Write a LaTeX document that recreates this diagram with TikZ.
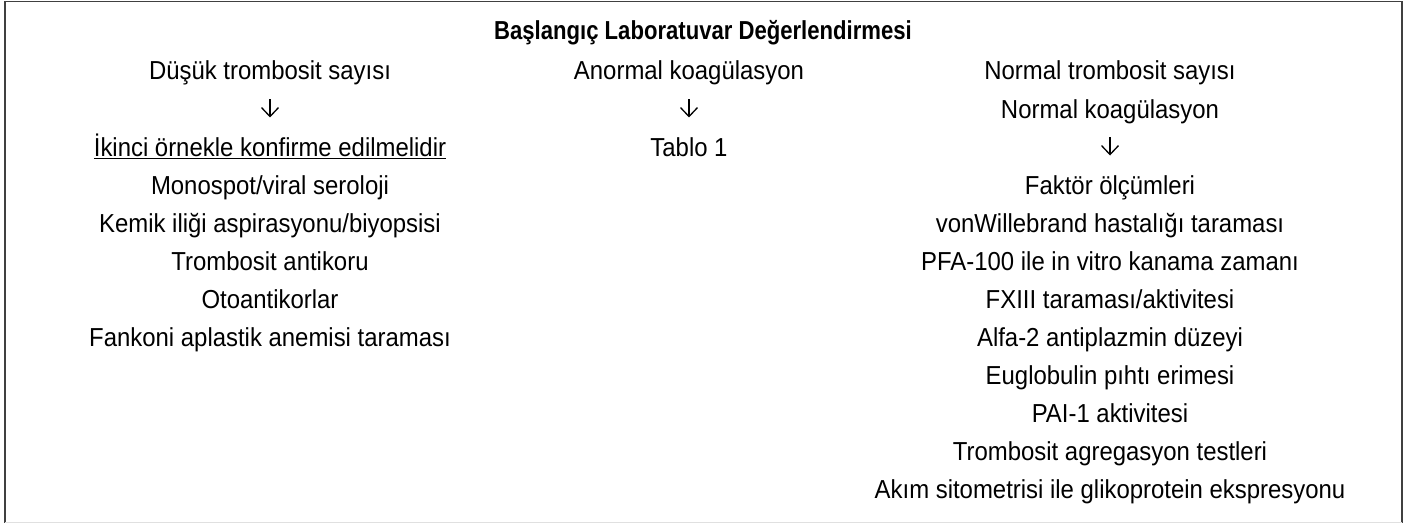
\documentclass[tikz,border=0pt]{standalone}
\usepackage{fontspec}
\setmainfont{Liberation Sans}[FakeStretch=0.92]
\newfontfamily\titlefont{Liberation Sans}[FakeStretch=0.85]
\usetikzlibrary{arrows.meta}
\tikzset{
  txt/.style={anchor=base, inner sep=0pt, outer sep=0pt, font=\fontsize{26}{30}\selectfont, text height=19pt, text depth=5pt},
  ttl/.style={txt, font=\titlefont\bfseries\fontsize{26}{30}\selectfont},
  flow/.style={line width=1.3pt, -{Straight Barb[length=9pt,width=17pt]}, shorten <=14.5pt, shorten >=19.5pt},
  frameline/.style={draw=black!75, line width=1.5pt},
  uline/.style={line width=1.4pt},
}
\begin{document}
\begin{tikzpicture}[x=1pt,y=-1pt]
\useasboundingbox (0,0) rectangle (1418,524);
\draw[frameline] (5,522.5) -- (5,1.5) -- (1402,1.5) -- (1402,522.5);
\draw[draw=black!12, line width=1pt] (5,522.5) -- (1402,522.5);

\node[ttl] (title) at (703,40) {Başlangıç Laboratuvar Değerlendirmesi};

% left column
\node[txt] (l1) at (270,80) {Düşük trombosit sayısı};
\node[txt] (l3) at (270,156) {İkinci örnekle konfirme edilmelidir};
\node[txt] (l4) at (270,194) {Monospot/viral seroloji};
\node[txt] (l5) at (270,232) {Kemik iliği aspirasyonu/biyopsisi};
\node[txt] (l6) at (270,270) {Trombosit antikoru};
\node[txt] (l7) at (270,308) {Otoantikorlar};
\node[txt] (l8) at (270,346) {Fankoni aplastik anemisi taraması};
\draw[flow] (l1.south) -- (l3.north);
\draw[uline] ([yshift=-2.5pt]l3.base west) -- ([yshift=-2.5pt]l3.base east);

% middle column
\node[txt] (m1) at (689,80) {Anormal koagülasyon};
\node[txt] (m3) at (689,156) {Tablo 1};
\draw[flow] (m1.south) -- (m3.north);

% right column
\node[txt] (r1) at (1110,80) {Normal trombosit sayısı};
\node[txt] (r2) at (1110,118) {Normal koagülasyon};
\node[txt] (r4) at (1110,194) {Faktör ölçümleri};
\node[txt] (r5) at (1110,232) {vonWillebrand hastalığı taraması};
\node[txt] (r6) at (1110,270) {PFA-100 ile in vitro kanama zamanı};
\node[txt] (r7) at (1110,308) {FXIII taraması/aktivitesi};
\node[txt] (r8) at (1110,346) {Alfa-2 antiplazmin düzeyi};
\node[txt] (r9) at (1110,384) {Euglobulin pıhtı erimesi};
\node[txt] (r10) at (1110,422) {PAI-1 aktivitesi};
\node[txt] (r11) at (1110,460) {Trombosit agregasyon testleri};
\node[txt] (r12) at (1110,498) {Akım sitometrisi ile glikoprotein ekspresyonu};
\draw[flow] (r2.south) -- (r4.north);
\end{tikzpicture}
\end{document}
